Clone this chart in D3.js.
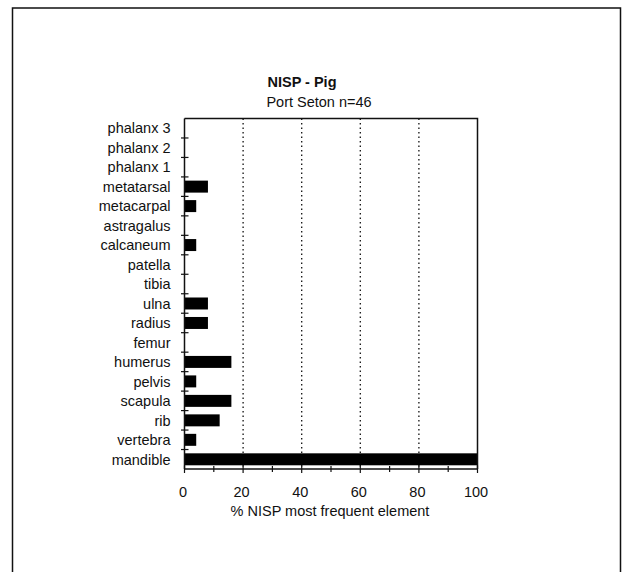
<!DOCTYPE html>
<html>
<head>
<meta charset="utf-8">
<script src="https://cdn.jsdelivr.net/npm/d3@7"></script>
<style>
  html, body { margin: 0; padding: 0; background: #fff; }
  svg { display: block; font-family: "Liberation Sans", Arial, sans-serif; }
</style>
</head>
<body>
<svg id="chart" width="624" height="572"></svg>
<script>
// Skeletal elements, top to bottom of the chart
const elements = [
  "phalanx 3", "phalanx 2", "phalanx 1", "metatarsal", "metacarpal",
  "astragalus", "calcaneum", "patella", "tibia", "ulna", "radius",
  "femur", "humerus", "pelvis", "scapula", "rib", "vertebra", "mandible"
];
// % NISP of the most frequent element (mandible)
const pctNisp = [
  0, 0, 0, 8, 4,
  0, 4, 0, 0, 8, 8,
  0, 16, 4, 16, 12, 4, 100
];
const xTicks = [0, 20, 40, 60, 80, 100];
const xMinorTicks = [10, 30, 50, 70, 90];
const gridTicks = [20, 40, 60, 80];

const titleText = "NISP - Pig";
const subtitleText = "Port Seton n=46";
const xTitleText = "% NISP most frequent element";

const svg = d3.select("#chart");
const plot = { left: 184.5, right: 477.5, top: 118.5, bottom: 469 };
const ink = "#111";

// outer frame (runs off the bottom of the page)
svg.append("path")
  .attr("d", "M12.5,590 L12.5,8 L620.5,8 L620.5,590")
  .attr("fill", "none").attr("stroke", ink).attr("stroke-width", 1.5);

const x = d3.scaleLinear().domain([0, 100]).range([plot.left, plot.right]);
const y = d3.scaleBand().domain(elements).range([plot.top, plot.bottom]).paddingInner(0.385).paddingOuter(0.19);
const yEdge = d3.scaleLinear().domain([0, elements.length]).range([plot.top, plot.bottom]);

// dotted vertical gridlines
svg.append("g").selectAll("line").data(gridTicks).join("line")
  .attr("x1", d => x(d)).attr("x2", d => x(d))
  .attr("y1", plot.top).attr("y2", plot.bottom)
  .attr("stroke", ink).attr("stroke-width", 1.3)
  .attr("stroke-dasharray", "1.5,3");

// bars
svg.append("g").selectAll("rect").data(elements).join("rect")
  .attr("x", x(0))
  .attr("y", d => y(d))
  .attr("width", (d, i) => x(pctNisp[i]) - x(0))
  .attr("height", y.bandwidth())
  .attr("fill", "#000");

// plot box: top and right borders
svg.append("path")
  .attr("d", `M${plot.left},${plot.top} L${plot.right},${plot.top} L${plot.right},${plot.bottom}`)
  .attr("fill", "none").attr("stroke", ink).attr("stroke-width", 1.5);

// y axis with crossing ticks at category boundaries
const yAxis = svg.append("g");
yAxis.append("line")
  .attr("x1", plot.left).attr("x2", plot.left)
  .attr("y1", plot.top).attr("y2", plot.bottom)
  .attr("stroke", ink).attr("stroke-width", 1.5);
yAxis.selectAll("line.tick").data(d3.range(1, elements.length)).join("line")
  .attr("class", "tick")
  .attr("x1", plot.left - 3.5).attr("x2", plot.left + 4)
  .attr("y1", d => yEdge(d)).attr("y2", d => yEdge(d))
  .attr("stroke", ink).attr("stroke-width", 1.2);
yAxis.selectAll("text").data(elements).join("text")
  .attr("x", 170.5)
  .attr("y", d => y(d) + y.bandwidth() / 2)
  .attr("dy", "0.36em")
  .attr("text-anchor", "end")
  .attr("font-size", "14.5px")
  .attr("fill", ink)
  .text(d => d);

// x axis with crossing major and minor ticks
const xAxis = svg.append("g");
xAxis.append("line")
  .attr("x1", plot.left).attr("x2", plot.right)
  .attr("y1", plot.bottom).attr("y2", plot.bottom)
  .attr("stroke", ink).attr("stroke-width", 1.5);
xAxis.selectAll("line.major").data(xTicks).join("line")
  .attr("class", "major")
  .attr("x1", d => x(d)).attr("x2", d => x(d))
  .attr("y1", plot.bottom - 3.5).attr("y2", plot.bottom + 4)
  .attr("stroke", ink).attr("stroke-width", 1.2);
xAxis.selectAll("line.minor").data(xMinorTicks).join("line")
  .attr("class", "minor")
  .attr("x1", d => x(d)).attr("x2", d => x(d))
  .attr("y1", plot.bottom - 3).attr("y2", plot.bottom + 3)
  .attr("stroke", ink).attr("stroke-width", 1.2);
xAxis.selectAll("text").data(xTicks).join("text")
  .attr("x", d => x(d) - 1.5)
  .attr("y", 497)
  .attr("text-anchor", "middle")
  .attr("font-size", "14.5px")
  .attr("fill", ink)
  .text(d => d);

// axis title
svg.append("text")
  .attr("x", 330).attr("y", 516)
  .attr("text-anchor", "middle")
  .attr("font-size", "14.5px")
  .attr("fill", ink)
  .text(xTitleText);

// chart titles
svg.append("text")
  .attr("x", 302).attr("y", 87)
  .attr("text-anchor", "middle")
  .attr("font-size", "14.5px")
  .attr("font-weight", "bold")
  .attr("fill", ink)
  .text(titleText);
svg.append("text")
  .attr("x", 319).attr("y", 107)
  .attr("text-anchor", "middle")
  .attr("font-size", "14.5px")
  .attr("fill", ink)
  .text(subtitleText);
</script>
</body>
</html>
